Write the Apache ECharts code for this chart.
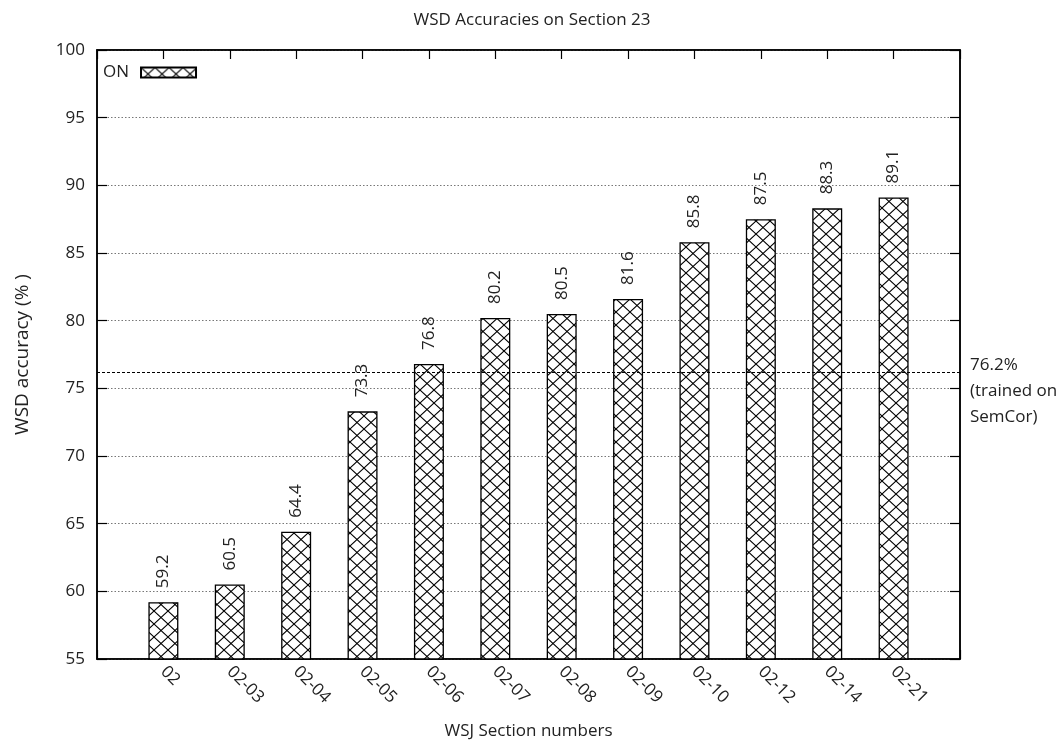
<!DOCTYPE html>
<html><head><meta charset="utf-8">
<script src="https://cdn.jsdelivr.net/npm/echarts@6/dist/echarts.min.js"></script>
<style>html,body{margin:0;padding:0;background:#fff}#c{width:1064px;height:746px}</style>
</head><body><div id="c"></div>
<script>
const categories = ['02','02-03','02-04','02-05','02-06','02-07','02-08','02-09','02-10','02-12','02-14','02-21'];
const accuracies = [59.2, 60.5, 64.4, 73.3, 76.8, 80.2, 80.5, 81.6, 85.8, 87.5, 88.3, 89.1];
const semcorBaseline = 76.2;
const seriesName = 'ON';

function makePattern(){
  const c = document.createElement('canvas');
  c.width = 14; c.height = 13;
  const g = c.getContext('2d');
  g.fillStyle = '#fff'; g.fillRect(0,0,14,13);
  g.strokeStyle = '#000'; g.lineWidth = 1.1;
  g.beginPath();
  g.moveTo(0,0); g.lineTo(14,13);
  g.moveTo(14,0); g.lineTo(0,13);
  g.stroke();
  return c;
}
const FONT = '"Open Sans", "Noto Sans", sans-serif';
const TXT = '#222';
const chart = echarts.init(document.getElementById('c'), null, {renderer:'canvas'});
const barData = accuracies.map((v,i)=>[i,v]);
chart.setOption({
  animation:false,
  backgroundColor:'#fff',
  textStyle:{fontFamily:FONT},
  title:{text:'WSD Accuracies on Section 23', left:'center', top:7,
    textStyle:{fontSize:17, fontWeight:'normal', color:TXT, fontFamily:FONT}},
  grid:{left:97, right:104, top:50, bottom:87, show:true, borderColor:'#000', borderWidth:1.5, backgroundColor:'transparent'},
  legend:{left:98, top:59, align:'right', icon:'rect', itemWidth:55, itemHeight:10, itemGap:10,
    textStyle:{fontSize:17, color:TXT, fontFamily:FONT, padding:[0,7,0,0]},
    data:[seriesName]},
  xAxis:[{
    type:'value', min:-1, max:12, interval:1,
    name:'WSJ Section numbers', nameLocation:'middle', nameGap:64,
    nameTextStyle:{fontSize:17, color:TXT, fontFamily:FONT},
    axisLine:{show:true, onZero:false, lineStyle:{color:'#000', width:1.5}},
    axisTick:{show:true, inside:true, length:9, lineStyle:{color:'#000', width:1.2}},
    splitLine:{show:false},
    axisLabel:{rotate:-45, margin:10, fontSize:17, color:TXT, fontFamily:FONT,
      formatter:v=> (categories[v]!==undefined ? categories[v] : '')}
  },{
    type:'value', min:-1, max:12, interval:1, position:'top',
    axisLine:{show:true, onZero:false, lineStyle:{color:'#000', width:1.5}},
    axisTick:{show:true, inside:true, length:9, lineStyle:{color:'#000', width:1.2}},
    axisLabel:{show:false}, splitLine:{show:false}
  }],
  yAxis:[{
    type:'value', min:55, max:100, interval:5,
    name:'WSD accuracy (% )', nameLocation:'middle', nameGap:65,
    nameTextStyle:{fontSize:19, color:TXT, fontFamily:FONT},
    axisLine:{show:true, onZero:false, lineStyle:{color:'#000', width:1.5}},
    axisTick:{show:true, inside:true, length:10, lineStyle:{color:'#000', width:1.2}},
    axisLabel:{margin:12, fontSize:17, color:TXT, fontFamily:FONT},
    splitLine:{show:true, lineStyle:{color:'#777', width:1, type:[1.5,2]}}
  },{
    type:'value', min:55, max:100, interval:5, position:'right',
    axisLine:{show:true, onZero:false, lineStyle:{color:'#000', width:1.5}},
    axisTick:{show:true, inside:true, length:10, lineStyle:{color:'#000', width:1.2}},
    axisLabel:{show:false}, splitLine:{show:false}
  }],
  series:[{
    name:seriesName, type:'bar', xAxisIndex:0, yAxisIndex:0,
    barWidth:30,
    data:barData,
    itemStyle:{color:{image:makePattern(), repeat:'repeat'}, borderColor:'#000', borderWidth:1.3},
    label:{show:true, position:'top', rotate:90, distance:14, align:'left', verticalAlign:'middle',
      fontSize:17, color:TXT, fontFamily:FONT, formatter:p=>p.value[1].toFixed(1)},
    markLine:{silent:true, symbol:'none',
      lineStyle:{color:'#000', width:1, type:[3,2]},
      label:{show:true, position:'end', distance:10, fontSize:17, color:TXT, fontFamily:FONT,
        lineHeight:26,
        formatter: '{gap| }\n' + semcorBaseline.toFixed(1)+'%\n(trained on\nSemCor)',
        rich:{gap:{lineHeight:38, fontSize:10}}},
      data:[{yAxis:semcorBaseline}]}
  }]
});
</script></body></html>
